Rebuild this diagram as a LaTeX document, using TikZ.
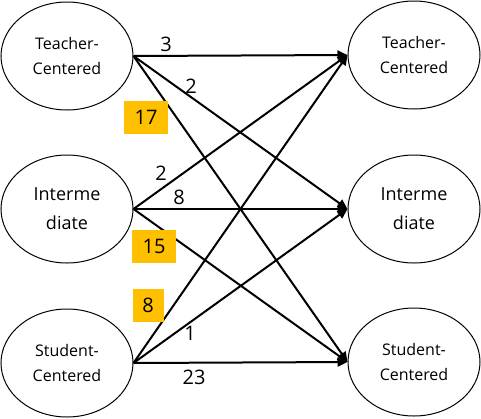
\documentclass[tikz,border=0pt]{standalone}
\usepackage{fontspec}
\setmainfont{Open Sans}
\usetikzlibrary{shapes.geometric,arrows.meta}
\definecolor{ybox}{HTML}{FFC000}
\tikzset{
  state/.style={ellipse, draw, line width=1pt, minimum width=132pt, minimum height=108pt, inner sep=0pt, align=center, font=\fontsize{16}{25}\selectfont},
  bigstate/.style={state, font=\fontsize{18}{29}\selectfont},
  conn/.style={line width=2pt, -{Triangle[length=10pt,width=9pt]}, shorten >=0pt},
  num/.style={inner sep=0pt, font=\fontsize{20}{24}\selectfont},
  hl/.style={fill=ybox, minimum width=44pt, minimum height=33pt, inner sep=0pt, font=\fontsize{20}{24}\selectfont}
}
\begin{document}
\begin{tikzpicture}[x=1pt,y=-1pt]
\useasboundingbox (0,0) rectangle (481,418);
\node[state] (L1) at (67,56) {Teacher-\\Centered};
\node[bigstate] (L2) at (67,209) {Interme\\diate};
\node[state] (L3) at (67,363) {Student-\\Centered};
\node[state] (R1) at (414,55) {Teacher-\\Centered};
\node[bigstate] (R2) at (414,209) {Interme\\diate};
\node[state] (R3) at (414,362) {Student-\\Centered};
\foreach \a in {1,2,3}{
  \foreach \b in {1,2,3}{
    \draw[conn] (L\a.east) -- (R\b.west);
  }
}
\node[num] (n3) at (166,44) {3};
\node[num] (n2a) at (191,86) {2};
\node[num] (n2b) at (161,173) {2};
\node[num] (n8) at (179,197) {8};
\node[num] (n1) at (190,333) {1};
\node[num] (n23) at (194,377) {23};
\node[hl] (b17) at (146,117) {17};
\node[hl] (b15) at (154,246) {15};
\node[hl, minimum width=31pt] (b8) at (148,305) {8};
\end{tikzpicture}
\end{document}
